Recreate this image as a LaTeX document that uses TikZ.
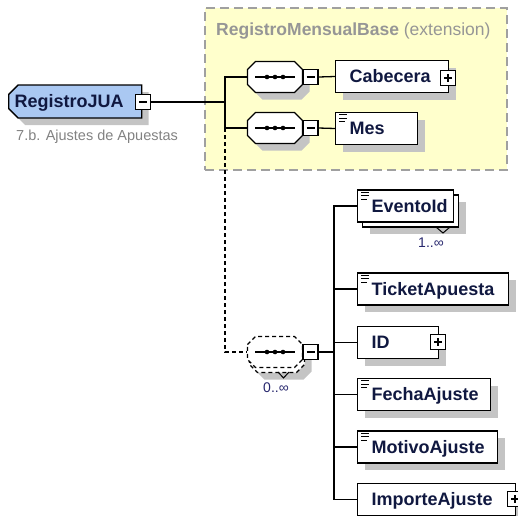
\documentclass[tikz,border=0pt]{standalone}
\usepackage{fontspec}
\setmainfont{Liberation Sans}
\usetikzlibrary{shapes.misc,shadows}

\definecolor{extfill}{RGB}{255,255,204}
\definecolor{extline}{RGB}{160,160,160}
\definecolor{exttext}{RGB}{150,150,150}
\definecolor{shadowgray}{RGB}{196,196,196}
\definecolor{globalfill}{RGB}{170,200,242}
\definecolor{nametext}{RGB}{16,24,64}
\definecolor{notetext}{RGB}{130,130,130}
\definecolor{occurtext}{RGB}{40,40,110}

\newcommand\namefont{\fontsize{18}{21}\selectfont\bfseries}
\newcommand\notefont{\fontsize{14.5}{17}\selectfont}
\newcommand\occurfont{\fontsize{14}{16}\selectfont}
\newcommand\padtext[2]{\makebox[#1][l]{#2}}

\tikzset{
  conn/.style={line width=1.3pt},
  dashedconn/.style={line width=1.3pt,dash pattern=on 4pt off 3pt},
  softshadow/.style={general shadow={fill=shadowgray,shadow xshift=7pt,shadow yshift=-7pt}},
  elembox/.style={rectangle,draw,line width=1.3pt,fill=white,minimum height=32pt,
    inner xsep=14pt,inner ysep=0pt,anchor=west,font=\namefont,text=nametext,
    text height=12.9pt,text depth=0pt},
  globalbox/.style={chamfered rectangle,chamfered rectangle corners={north west,south west},
    chamfered rectangle xsep=6pt,draw,line width=1.4pt,fill=globalfill,
    minimum height=33pt,inner xsep=0pt,inner ysep=0pt,anchor=west,font=\namefont,
    text=nametext,text height=12.9pt,text depth=0pt},
  % invisible frame that names a sequence compositor; its outline is the pic below
  seqframe/.style={rectangle,minimum width=55pt,minimum height=31pt,inner sep=0pt},
  togglebox/.style={rectangle,draw,line width=1.1pt,fill=white,minimum size=15pt,inner sep=0pt},
  minusbox/.style={togglebox,path picture={
    \draw[line width=1.1pt] ([xshift=3.5pt]path picture bounding box.west)
      -- ([xshift=-3.5pt]path picture bounding box.east);}},
  plusbox/.style={togglebox,path picture={
    \draw[line width=1.1pt] ([xshift=3.5pt]path picture bounding box.west)
      -- ([xshift=-3.5pt]path picture bounding box.east)
      ([yshift=-3.5pt]path picture bounding box.north)
      -- ([yshift=3.5pt]path picture bounding box.south);}},
  occur/.style={inner sep=0pt,font=\occurfont,text=occurtext},
  octshadowed/.pic={
    \fill[shadowgray,shift={(7,7)}] (-27.5,-7.5) -- (-19.5,-15.5) -- (19.5,-15.5) -- (27.5,-7.5)
      -- (27.5,7.5) -- (19.5,15.5) -- (-19.5,15.5) -- (-27.5,7.5) -- cycle;
    \path[draw,fill=white,line width=1.3pt,pic actions] (-27.5,-7.5) -- (-19.5,-15.5)
      -- (19.5,-15.5) -- (27.5,-7.5) -- (27.5,7.5) -- (19.5,15.5) -- (-19.5,15.5)
      -- (-27.5,7.5) -- cycle;},
  octflat/.pic={
    \path[draw,fill=white,line width=1.3pt,pic actions] (-27.5,-7.5) -- (-19.5,-15.5)
      -- (19.5,-15.5) -- (27.5,-7.5) -- (27.5,7.5) -- (19.5,15.5) -- (-19.5,15.5)
      -- (-27.5,7.5) -- cycle;},
  seqsym/.pic={
    \draw[line width=1.1pt] (-20,0) -- (20,0);
    \foreach \dx in {-8,0,8} \fill (\dx,0) circle (2.3pt);},
  docicon/.pic={
    \draw[line width=1pt] (4,3) -- (12,3) (4,6.5) -- (12,6.5) (4,10) -- (10,10);},
}

\begin{document}
\begin{tikzpicture}[x=1pt,y=-1pt]
\useasboundingbox (0,0) rectangle (518,515);

% extension area of the base type
\node[draw=extline,fill=extfill,line width=1.2pt,dash pattern=on 9pt off 5pt,
  minimum width=302pt,minimum height=162pt,inner sep=0pt] (ext) at (356,89) {};
\node[anchor=west,inner sep=0pt,text=exttext,font=\fontsize{17.5}{20}\selectfont]
  (exttitle) at (216,31) {\textbf{RegistroMensualBase} (extension)};

% global element
\node[globalbox,softshadow] (jua) at (8,101.5) {\padtext{121pt}{RegistroJUA}};
\node[minusbox] (juaT) at (143,102) {};
\node[anchor=west,inner sep=0pt,font=\notefont,text=notetext] (juanote) at (16,137)
  {7.b. Ajustes de Apuestas};
\coordinate (hub) at (225,102);
\coordinate (drop) at (225,128);

% first sequence: Cabecera
\node[seqframe] (seq1) at (275,77) {};
\pic at (seq1.center) {octshadowed};
\pic at (seq1.center) {seqsym};
\node[minusbox] (seq1T) at (310.5,77) {};
\node[elembox,softshadow] (cab) at (335,76.5) {\padtext{85pt}{Cabecera}};
\node[plusbox] (cabT) at (448,78) {};

% second sequence: Mes
\node[seqframe] (seq2) at (275,128) {};
\pic at (seq2.center) {octshadowed};
\pic at (seq2.center) {seqsym};
\node[minusbox] (seq2T) at (310.5,128) {};
\node[elembox,softshadow] (mes) at (335,128.5) {\padtext{54pt}{Mes}};
\pic at (mes.north west) {docicon};

\draw[conn] (juaT.east) -- (hub);
\draw[conn] (seq1.west) -| (hub) |- (seq2.west);
\draw[conn] (seq1T.east) -- (cab.west);
\draw[conn] (seq2T.east) -- (mes.west);

% optional repeated sequence
\node[seqframe] (seq3) at (275,352) {};
\pic[line width=1.1pt,dash pattern=on 4pt off 3pt] at (277,357) {octshadowed};
\pic[line width=1.1pt,dash pattern=on 4pt off 3pt] at (seq3.center) {octflat};
\pic at (seq3.center) {seqsym};
\draw[line width=1pt] (278,372) -- (283.5,378) -- (289,372);
\node[minusbox] (seq3T) at (310.5,352) {};
\node[occur] (seq3occ) at (276,388) {0..∞};
\draw[dashedconn] (drop) |- (seq3.west);
\coordinate (tree) at (334,352);
\draw[conn] (seq3T.east) -- (tree);

% children of the sequence
\node[elembox,softshadow,minimum width=96pt] (evtB) at (362,211) {};
\node[elembox] (evt) at (357,206) {\padtext{68pt}{EventoId}};
\pic at (evt.north west) {docicon};
\draw[line width=1pt] (436,227) -- (443,233) -- (450,227);
\node[occur] (evtocc) at (431,243) {1..∞};

\node[elembox,softshadow] (tick) at (357,289) {\padtext{123pt}{TicketApuesta}};
\pic at (tick.north west) {docicon};

\node[elembox,softshadow] (id) at (357,342.5) {\padtext{53pt}{ID}};
\node[plusbox] (idT) at (438,342) {};

\node[elembox,softshadow] (fecha) at (357,394.5) {\padtext{105pt}{FechaAjuste}};
\pic at (fecha.north west) {docicon};

\node[elembox,softshadow] (motivo) at (357,447) {\padtext{112pt}{MotivoAjuste}};
\pic at (motivo.north west) {docicon};

\node[elembox,softshadow] (importe) at (357,499.5) {\padtext{130pt}{ImporteAjuste}};
\node[plusbox] (importeT) at (515,499) {};

\foreach \child in {evt,tick,id,fecha,motivo,importe}
  \draw[conn] (tree) |- (\child.west);

\end{tikzpicture}
\end{document}
